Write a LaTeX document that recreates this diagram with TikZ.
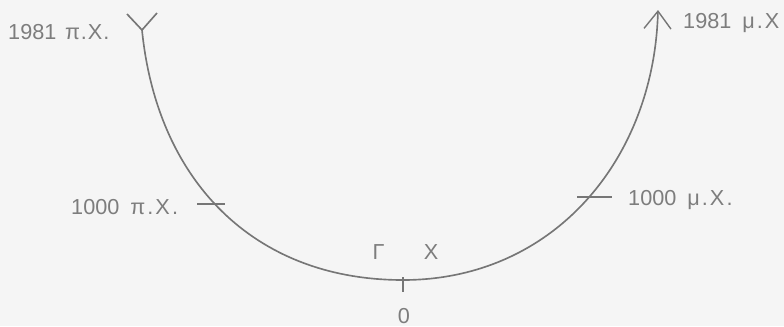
\documentclass[tikz,border=0pt]{standalone}
\usepackage{fontspec}
\setmainfont{Liberation Sans}
\usetikzlibrary{arrows.meta}
\definecolor{bg}{RGB}{245,245,245}
\definecolor{linegray}{RGB}{118,118,118}
\definecolor{textgray}{RGB}{125,125,125}
\newcommand{\wsp}{\hspace{0.5em}}
\newcommand{\bcx}{π\kern1.8pt.\kern1.8ptΧ\kern1.8pt.}
\newcommand{\adx}{μ\kern1.8pt.\kern1.8ptΧ\kern1.8pt.}
\begin{document}
\begin{tikzpicture}[x=0.03cm,y=-0.03cm,
  arcline/.style={draw=linegray,line width=1.4pt},
  ticklne/.style={draw=linegray,line width=1.1pt},
  lbl/.style={text=textgray,inner sep=0pt,font=\fontsize{18.5}{20}\selectfont}]
\path[use as bounding box,fill=bg] (0,0) rectangle (784,326);
% curve points
\coordinate (L) at (142,30);
\coordinate (B) at (403,280);
\coordinate (R) at (658,10);
\coordinate (T1) at (214,204);
\coordinate (T2) at (591,197);
\draw[arcline,-{Straight Barb[length=15pt,width=23pt,line width=1.2pt]}]
  (L) .. controls (157,180) and (253,280) .. (B)
      .. controls (553,280) and (654,160) .. (R);
% fork at left end
\draw[arcline] (L) -- ++(-15,-16);
\draw[arcline] (L) -- ++(15,-17);
% ticks
\draw[ticklne] (T1) ++(-17,0) -- ++(28,0);
\draw[ticklne] (T2) ++(-14,0) -- ++(35,0);
\draw[ticklne] (B) ++(0,-3) -- ++(0,15);
% labels
\node[lbl,anchor=base west] (l1981bc) at (8,39) {1981\hspace{0.4em}π\kern0.8pt.\kern0.8ptΧ\kern0.8pt.};
\node[lbl,anchor=base west] (l1981ad) at (683,28) {1981\wsp μ\kern1.8pt.\kern1.8ptΧ};
\node[lbl,anchor=base west] (l1000bc) at (71,214) {1000\wsp\bcx};
\node[lbl,anchor=base west] (l1000ad) at (628,205) {1000\wsp\adx};
\node[lbl,anchor=base] (gamma) at (378.5,259) {Γ};
\node[lbl,anchor=base] (chi) at (431,259) {Χ};
\node[lbl,anchor=base] (zero) at (404,323) {0};
\end{tikzpicture}
\end{document}
